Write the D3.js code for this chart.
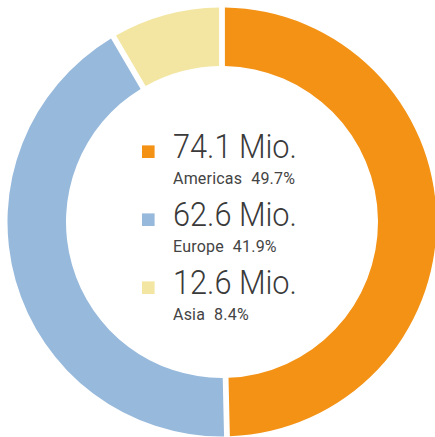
<!DOCTYPE html>
<html>
<head>
<meta charset="utf-8">
<script src="https://cdn.jsdelivr.net/npm/d3@7"></script>
<style>
  html, body { margin: 0; padding: 0; background: #fff; }
  svg { display: block; }
</style>
</head>
<body>
<svg id="chart" width="435" height="437"></svg>
<script>
const regions = ["Americas", "Europe", "Asia"];
const amounts = [74.1, 62.6, 12.6];
const shares = ["49.7%", "41.9%", "8.4%"];
const colors = ["#F39215", "#97B9DC", "#F3E6A3"];

const svg = d3.select("#chart");
const cx = 222, cy = 222, R = 214.5, r = 156;

const data = regions.map((k, i) => ({ region: k, amount: amounts[i], share: shares[i], color: colors[i] }));

const pie = d3.pie().value(d => d.amount).sort(null);
const arc = d3.arc().innerRadius(r).outerRadius(R).padAngle(0.058).padRadius(100);

const g = svg.append("g").attr("transform", `translate(${cx},${cy})`);
g.selectAll("path").data(pie(data)).join("path")
  .attr("d", arc)
  .attr("fill", d => d.data.color);

// legend
const y = d3.scaleBand().domain(regions).range([158, 362]).paddingInner(0).paddingOuter(0).align(0);
const leg = svg.append("g");
const items = leg.selectAll("g").data(data).join("g")
  .attr("transform", d => `translate(0,${y(d.region)})`);

items.append("rect")
  .attr("x", 142).attr("y", -12.6).attr("width", 12.6).attr("height", 12.6)
  .attr("fill", d => d.color);

const big = items.append("text")
  .attr("x", 173).attr("y", 0)
  .attr("font-family", "Roboto")
  .attr("font-weight", 300)
  .attr("font-size", 33)
  .attr("fill", "#3a3a3a")
  .text(d => d3.format(".1f")(d.amount) + " Mio.");

const small = items.append("text")
  .attr("x", 173).attr("y", 25.5)
  .attr("font-family", "Roboto")
  .attr("font-weight", 400)
  .attr("font-size", 16)
  .attr("letter-spacing", 0.2)
  .attr("fill", "#444");
small.append("tspan").text(d => d.region);
small.append("tspan").attr("dx", 9).text(d => d.share);

// condense big text to match reference width (74.1 Mio. ≈ 124px)
const w0 = big.nodes()[0].getComputedTextLength();
const sx = 124 / w0;
big.attr("transform", `translate(173,0) scale(${sx},1) translate(-173,0)`);
</script>
</body>
</html>
